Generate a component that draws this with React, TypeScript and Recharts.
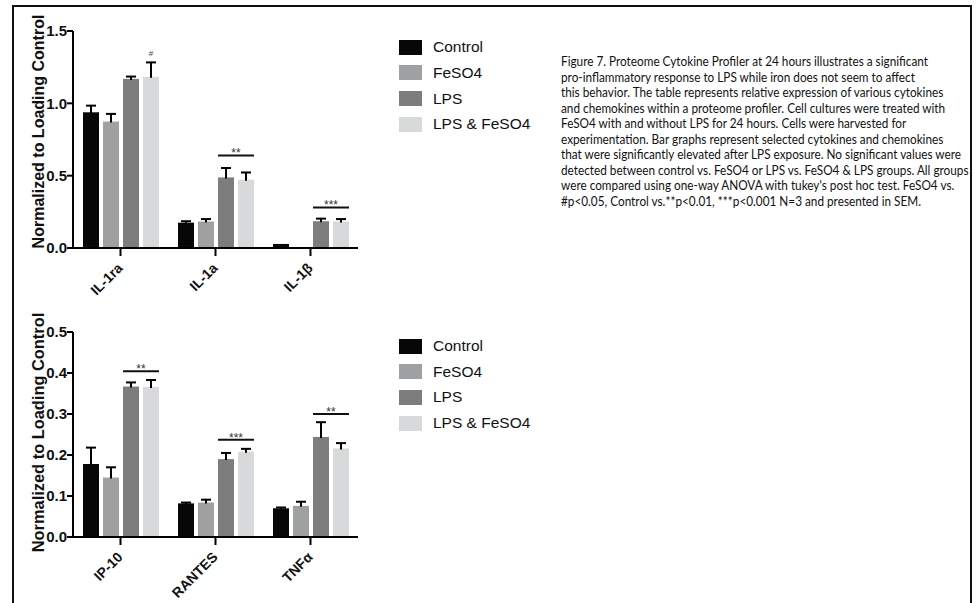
import React, { useLayoutEffect, useRef, useState } from 'react';
import { BarChart, Bar, XAxis, YAxis, Legend } from 'recharts';

// ---------- data ----------
const seriesNames = ['Control', 'FeSO4', 'LPS', 'LPS & FeSO4'];
const seriesColors = ['#070707', '#9ea0a2', '#7d7d7d', '#d8d9da'];

const topCategories = ['IL-1ra', 'IL-1a', 'IL-1β'];
const topControl = [0.938, 0.175, 0.028];
const topControlErr = [0.046, 0.01, 0];
const topFeSO4 = [0.874, 0.183, 0];
const topFeSO4Err = [0.053, 0.017, 0];
const topLPS = [1.169, 0.488, 0.185];
const topLPSErr = [0.016, 0.065, 0.018];
const topLPSFe = [1.183, 0.472, 0.183];
const topLPSFeErr = [0.1, 0.05, 0.017];
const topSigLevel = [1.35, 0.64, 0.28];
const topSigLabel = ['#', '**', '***'];
const topSigLine = [false, true, true];
const topTicks = [0, 0.5, 1.0, 1.5];

const bottomCategories = ['IP-10', 'RANTES', 'TNFα'];
const bottomControl = [0.178, 0.082, 0.07];
const bottomControlErr = [0.04, 0.002, 0.002];
const bottomFeSO4 = [0.145, 0.084, 0.076];
const bottomFeSO4Err = [0.025, 0.007, 0.01];
const bottomLPS = [0.367, 0.19, 0.244];
const bottomLPSErr = [0.01, 0.015, 0.036];
const bottomLPSFe = [0.366, 0.208, 0.216];
const bottomLPSFeErr = [0.017, 0.007, 0.013];
const bottomSigLevel = [0.404, 0.237, 0.3];
const bottomSigLabel = ['**', '***', '**'];
const bottomSigLine = [true, true, true];
const bottomTicks = [0, 0.1, 0.2, 0.3, 0.4, 0.5];

const yTitle = 'Normalized to Loading Control';

const captionLines = [
  'Figure 7. Proteome Cytokine Profiler at 24 hours illustrates a significant',
  'pro-inflammatory response to LPS while iron does not seem to affect',
  'this behavior. The table represents relative expression of various cytokines',
  'and chemokines within a proteome profiler. Cell cultures were treated with',
  'FeSO4 with and without LPS for 24 hours. Cells were harvested for',
  'experimentation. Bar graphs represent selected cytokines and chemokines',
  'that were significantly elevated after LPS exposure. No significant values were',
  'detected between control vs. FeSO4 or LPS vs. FeSO4 & LPS groups. All groups',
  "were compared using one-way ANOVA with tukey's post hoc test. FeSO4 vs.",
  '#p<0.05, Control vs.**p<0.01, ***p<0.001 N=3 and presented in SEM.',
];

// ---------- helpers ----------
const FONT = '"Liberation Sans", Arial, Helvetica, sans-serif';
const BAR_SIZE = 16;
const BAR_GAP = 4;

function buildRows(cats: string[], vals: number[][], errs: number[][], sigLevel: number[], sigLabel: string[], sigLine: boolean[]) {
  return cats.map((c, i) => {
    const row: any = { name: c, sigLevel: sigLevel[i], sigLabel: sigLabel[i], sigLine: sigLine[i] };
    vals.forEach((v, k) => {
      row['s' + k] = v[i];
      row['e' + k] = errs[k][i];
    });
    return row;
  });
}

const makeShape = (k: number, withSig: boolean) => (props: any) => {
  const { x, y, width, height, fill, payload } = props;
  const v = payload['s' + k];
  const e = payload['e' + k];
  const ppu = v > 0 ? height / v : 0;
  const top = y - e * ppu;
  const cx = x + width / 2;
  let sig = null;
  if (withSig && ppu > 0) {
    const sy = y + height - payload.sigLevel * ppu;
    if (payload.sigLine) {
      const x1 = x - BAR_GAP - width;
      const x2 = x + width;
      sig = (
        <g>
          <line x1={x1} x2={x2} y1={sy} y2={sy} stroke="#111" strokeWidth={2} />
          <text x={(x1 + x2) / 2} y={sy + 2} textAnchor="middle" fontSize={12} fill="#333" fontFamily={FONT}>
            {payload.sigLabel}
          </text>
        </g>
      );
    } else {
      sig = (
        <text x={cx} y={sy + 3} textAnchor="middle" fontSize={8} fill="#444" fontFamily={FONT}>
          {payload.sigLabel}
        </text>
      );
    }
  }
  return (
    <g>
      {height > 0 && <rect x={x} y={y} width={width} height={height} fill={fill} />}
      {e > 0 && ppu > 0 && (
        <g>
          <line x1={cx} x2={cx} y1={y + 1} y2={top} stroke="#000" strokeWidth={2} />
          <line x1={cx - 5} x2={cx + 5} y1={top} y2={top} stroke="#000" strokeWidth={2} />
        </g>
      )}
      {sig}
    </g>
  );
};

const XTick = (props: any) => {
  const { x, y, payload } = props;
  return (
    <text
      transform={`translate(${x + 3},${y + 11}) rotate(-45)`}
      textAnchor="end"
      fontSize={14}
      fontWeight="bold"
      fill="#111"
      fontFamily={FONT}
    >
      {payload.value}
    </text>
  );
};

const legendContent = (props: any) => {
  const items = props.payload || [];
  return (
    <div style={{ fontFamily: FONT, fontSize: 15.5, color: '#111' }}>
      {items.map((it: any) => (
        <div key={it.value} style={{ display: 'flex', alignItems: 'center', height: 25.6 }}>
          <span style={{ display: 'inline-block', width: 23, height: 15, background: it.color, marginRight: 11 }} />
          <span>{it.value}</span>
        </div>
      ))}
    </div>
  );
};

type PanelProps = {
  rows: any[];
  ticks: number[];
  domainMax: number;
  top: number;
  height: number;
  marginTop: number;
  legendTop: number;
  titleSize: number;
  titleShift: number;
};

const Panel = ({ rows, ticks, domainMax, top, height, marginTop, legendTop, titleSize, titleShift }: PanelProps) => (
  <div style={{ position: 'absolute', left: 0, top }}>
    <BarChart
      width={600}
      height={height}
      data={rows}
      margin={{ top: marginTop, right: 242, left: 13, bottom: 0 }}
      barSize={BAR_SIZE}
      barGap={BAR_GAP}
      style={{ overflow: 'visible' }}
    >
      <XAxis
        dataKey="name"
        height={75}
        axisLine={{ stroke: '#000', strokeWidth: 2 }}
        tickLine={{ stroke: '#000', strokeWidth: 2 }}
        tickSize={8}
        tickMargin={2}
        tick={<XTick />}
        interval={0}
      />
      <YAxis
        width={60}
        domain={[0, domainMax]}
        ticks={ticks}
        interval={0}
        tickFormatter={(v: number) => v.toFixed(1)}
        axisLine={{ stroke: '#000', strokeWidth: 2 }}
        tickLine={{ stroke: '#000', strokeWidth: 2 }}
        tickSize={6}
        tickMargin={0}
        tick={{ fontSize: 15, fontWeight: 'bold', fill: '#111', fontFamily: FONT }}
        label={(p: any) => {
          const vb = p.viewBox;
          const cx = vb.x + 31;
          const cy = vb.y + vb.height / 2 + titleShift;
          return (
            <text
              transform={`translate(${cx},${cy}) rotate(-90)`}
              textAnchor="middle"
              fontSize={titleSize}
              fontWeight="bold"
              fill="#111"
              fontFamily={FONT}
            >
              {yTitle}
            </text>
          );
        }}
      />
      <Legend
        layout="vertical"
        align="center"
        verticalAlign="middle"
        wrapperStyle={{ left: 399, top: legendTop, width: 180 }}
        content={legendContent}
      />
      {seriesNames.map((n, k) => (
        <Bar
          key={n}
          dataKey={'s' + k}
          name={n}
          fill={seriesColors[k]}
          isAnimationActive={false}
          shape={makeShape(k, k === 3)}
        />
      ))}
    </BarChart>
  </div>
);

const Caption = () => {
  const ref = useRef<HTMLSpanElement>(null);
  const [scale, setScale] = useState(1);
  useLayoutEffect(() => {
    if (ref.current) {
      const w = ref.current.getBoundingClientRect().width;
      if (w > 0) setScale(400 / w);
    }
  }, []);
  return (
    <div
      style={{
        position: 'absolute',
        left: 561,
        top: 54,
        fontFamily: 'Lato, "Noto Sans", sans-serif',
        fontSize: 13,
        lineHeight: '15.5px',
        color: '#111',
        whiteSpace: 'nowrap',
        transform: `scaleX(${scale})`,
        transformOrigin: 'left top',
      }}
    >
      {captionLines.map((l, i) => (
        <div key={i}>
          <span ref={i === 6 ? ref : undefined}>{l}</span>
        </div>
      ))}
    </div>
  );
};

export default function App() {
  const topRows = buildRows(
    topCategories,
    [topControl, topFeSO4, topLPS, topLPSFe],
    [topControlErr, topFeSO4Err, topLPSErr, topLPSFeErr],
    topSigLevel,
    topSigLabel,
    topSigLine
  );
  const bottomRows = buildRows(
    bottomCategories,
    [bottomControl, bottomFeSO4, bottomLPS, bottomLPSFe],
    [bottomControlErr, bottomFeSO4Err, bottomLPSErr, bottomLPSFeErr],
    bottomSigLevel,
    bottomSigLabel,
    bottomSigLine
  );
  return (
    <div
      style={{
        position: 'absolute',
        left: 0,
        top: 0,
        width: 979,
        height: 603,
        overflow: 'hidden',
        background: '#fff',
      }}
    >
      <div
        style={{
          position: 'absolute',
          left: 12,
          top: 5,
          width: 956,
          height: 700,
          border: '2px solid #111',
        }}
      />
      <Panel rows={topRows} ticks={topTicks} domainMax={1.5} top={0} height={323} marginTop={31} legendTop={34.6} titleSize={16} titleShift={-8} />
      <Panel rows={bottomRows} ticks={bottomTicks} domainMax={0.5} top={290} height={322} marginTop={42} legendTop={43.5} titleSize={16.4} titleShift={-2} />
      <Caption />
    </div>
  );
}
